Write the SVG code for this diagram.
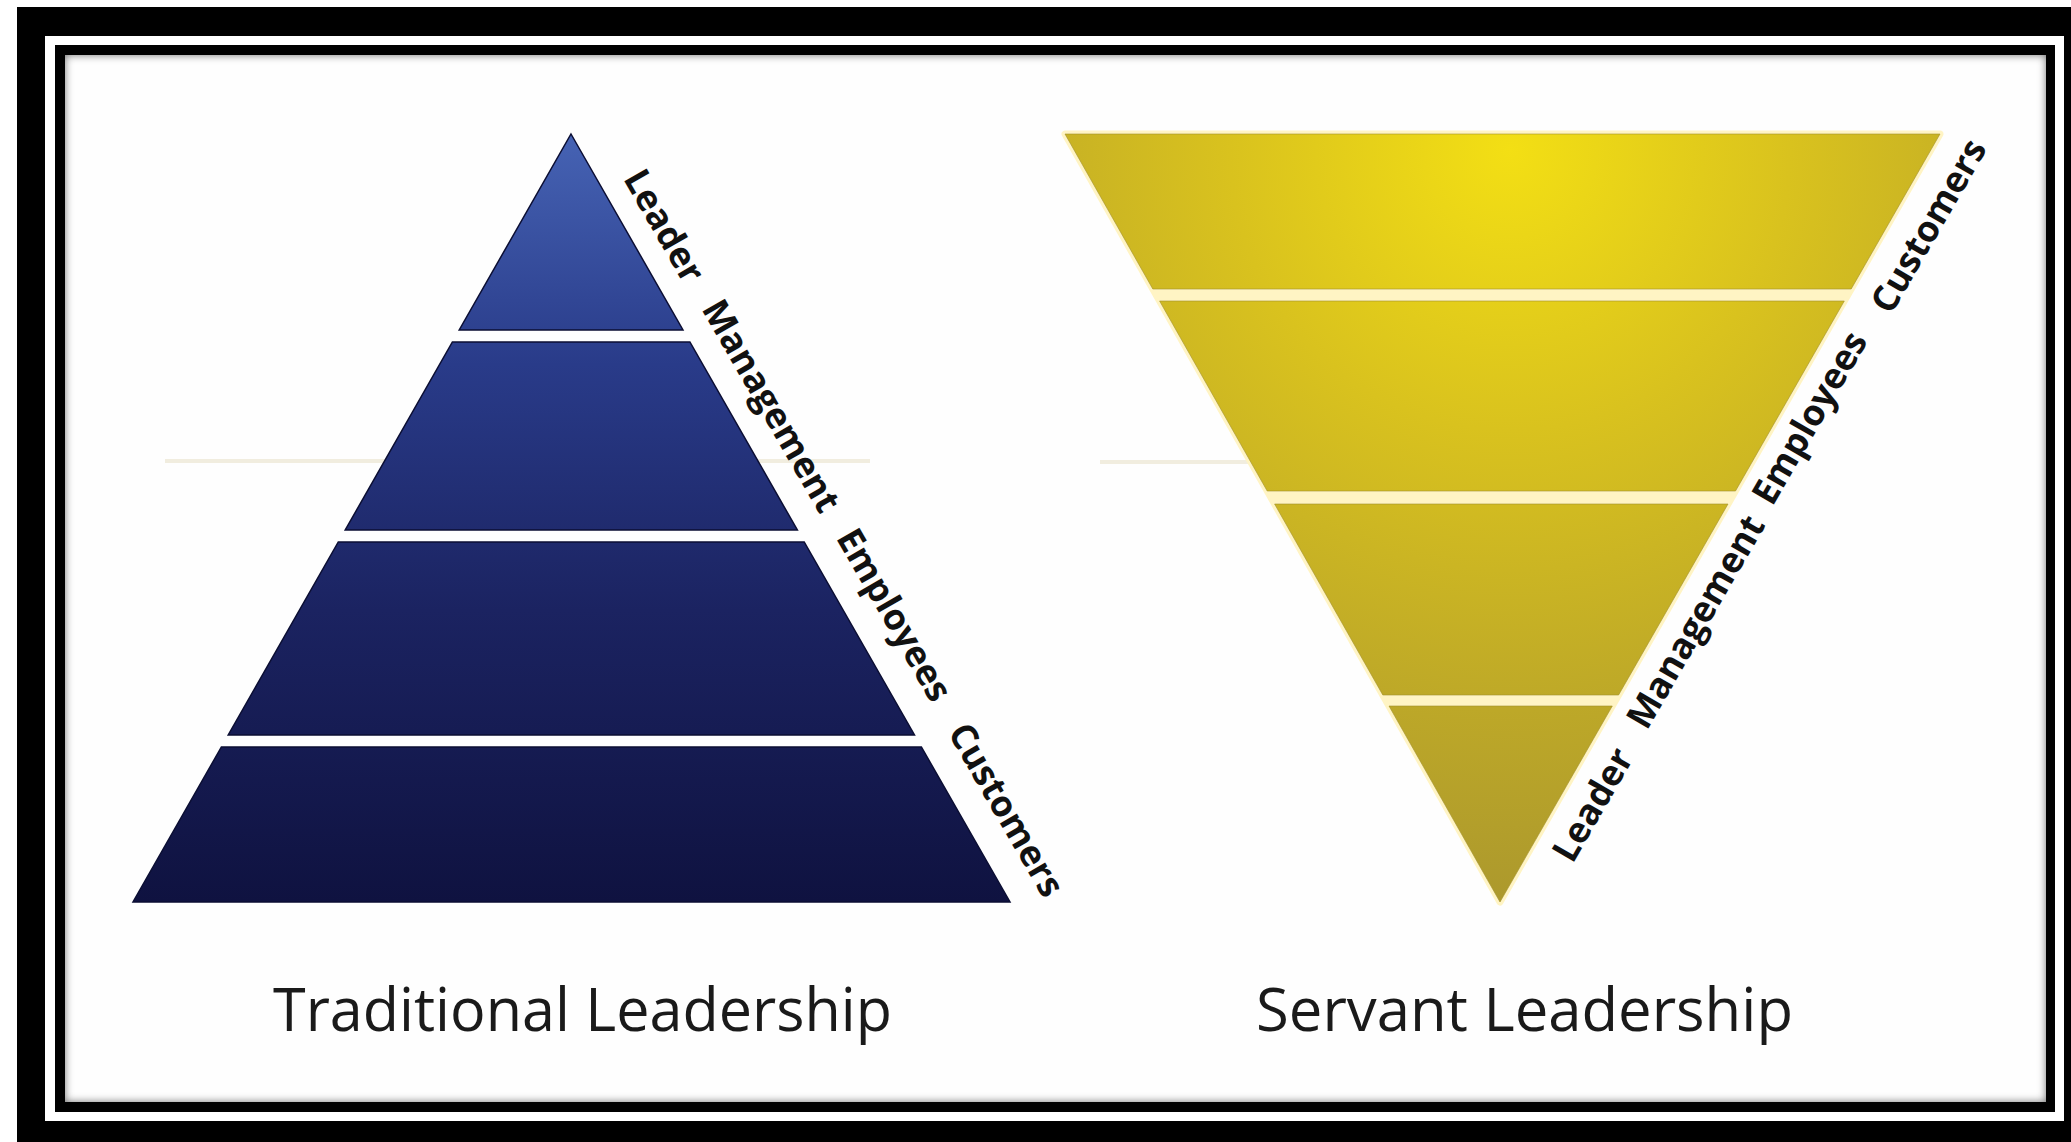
<svg xmlns="http://www.w3.org/2000/svg" width="2071" height="1142" viewBox="0 0 2071 1142">
<style>
.lbl{font-family:"Open Sans","Liberation Sans",sans-serif;font-weight:700;font-size:36px;fill:#111;text-anchor:middle}
.title{font-family:"Open Sans","Liberation Sans",sans-serif;font-weight:400;font-size:60px;fill:#1a1a1a}
.tb{fill:url(#gBlue);stroke:#0b0e33;stroke-width:1.5;stroke-linejoin:miter}
.yb{fill:url(#gGold);stroke:#a28f2c;stroke-width:1;stroke-opacity:0.6}
</style>
<defs>
<linearGradient id="gBlue" gradientUnits="userSpaceOnUse" x1="0" y1="134" x2="0" y2="902">
<stop offset="0" stop-color="#4663b4"/>
<stop offset="0.3" stop-color="#293b89"/>
<stop offset="0.62" stop-color="#1b2361"/>
<stop offset="1" stop-color="#0f1240"/>
</linearGradient>
<radialGradient id="gGold" gradientUnits="userSpaceOnUse" cx="1510" cy="150" r="800">
<stop offset="0" stop-color="#f3df14"/>
<stop offset="0.35" stop-color="#d9c21e"/>
<stop offset="0.7" stop-color="#bda828"/>
<stop offset="1" stop-color="#a8952e"/>
</radialGradient>
<clipPath id="clipContent"><rect x="65" y="55" width="1981" height="1047"/></clipPath>
<filter id="soft" x="-5%" y="-5%" width="110%" height="110%"><feGaussianBlur stdDeviation="4"/></filter>
</defs>

<g id="frame">
<rect x="0" y="0" width="2071" height="1142" fill="#ffffff"/>
<rect x="17" y="7" width="2054" height="1135" fill="#000"/>
<rect x="45" y="36" width="2019" height="1085" fill="#ffffff"/>
<rect x="55" y="45" width="2000" height="1067" fill="#000"/>
<rect x="65" y="55" width="1981" height="1047" fill="#fefefe"/>
<rect x="60" y="50" width="1991" height="1057" fill="none" stroke="#000" stroke-width="10" opacity="0.55" filter="url(#soft)" clip-path="url(#clipContent)"/>
</g>

<g id="ghost-lines">
<line x1="165" y1="461" x2="870" y2="461" stroke="#f1eddf" stroke-width="4"/>
<line x1="1100" y1="462" x2="1250" y2="462" stroke="#f1eddf" stroke-width="4"/>
</g>

<g id="traditional">
<g id="trad-leader">
<polygon class="tb" points="571,134 683,330 459.2,330"/>
<text class="lbl" transform="translate(664,226) rotate(60)" x="0" y="12">Leader</text>
</g>
<g id="trad-management">
<polygon class="tb" points="452.4,342 689.9,342 797.4,530 345.2,530"/>
<text class="lbl" transform="translate(771,406) rotate(60)" x="0" y="12">Management</text>
</g>
<g id="trad-employees">
<polygon class="tb" points="338.3,542 804.2,542 914.5,735 228.2,735"/>
<text class="lbl" transform="translate(894,615) rotate(60)" x="0" y="12">Employees</text>
</g>
<g id="trad-customers">
<polygon class="tb" points="221.4,747 921.4,747 1010,902 133,902"/>
<text class="lbl" transform="translate(1006,810) rotate(60)" x="0" y="12">Customers</text>
</g>
<text id="title-traditional" class="title" x="273" y="1031" textLength="619" lengthAdjust="spacingAndGlyphs">Traditional Leadership</text>
</g>

<g id="servant">
<polygon points="1065,134 1940,134 1500,902" fill="#fff4c4" stroke="#fff4c4" stroke-width="7" stroke-linejoin="round"/>
<g id="serv-customers">
<polygon class="yb" points="1065,134 1940,134 1851.2,289 1152.8,289"/>
<text class="lbl" transform="translate(1929,226) rotate(-60)" x="0" y="12">Customers</text>
</g>
<g id="serv-employees">
<polygon class="yb" points="1159.6,301 1844.3,301 1735.5,491 1267.2,491"/>
<text class="lbl" transform="translate(1810,418) rotate(-60)" x="0" y="12">Employees</text>
</g>
<g id="serv-management">
<polygon class="yb" points="1274.6,504 1728,504 1618.6,695 1382.8,695"/>
<text class="lbl" transform="translate(1696,622) rotate(-60)" x="0" y="12">Management</text>
</g>
<g id="serv-leader">
<polygon class="yb" points="1389,706 1612.3,706 1500,902"/>
<text class="lbl" transform="translate(1593,805) rotate(-60)" x="0" y="12">Leader</text>
</g>
<text id="title-servant" class="title" x="1256" y="1031" textLength="537" lengthAdjust="spacingAndGlyphs">Servant Leadership</text>
</g>

<g id="connectors"/>
</svg>
